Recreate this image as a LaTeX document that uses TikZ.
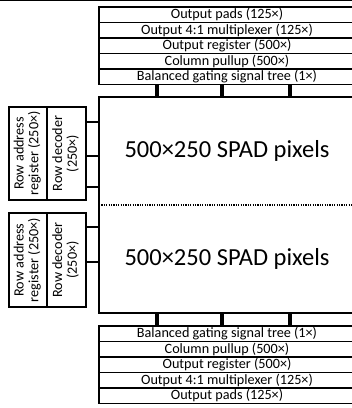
\documentclass[tikz,border=0pt]{standalone}
\usepackage{fontspec}
\setmainfont{Carlito}
\usetikzlibrary{positioning}

\tikzset{
  rowbox/.style={draw, line width=1.3pt, inner sep=0pt, outer sep=0pt,
    minimum width=256pt, minimum height=15.5pt, font=\fontsize{14.2}{15}\selectfont},
  sidebox/.style={draw, line width=1.3pt, inner sep=0pt, outer sep=0pt,
    minimum height=93pt, align=center, font=\fontsize{14.2}{14.5}\selectfont},
  pixhalf/.style={inner sep=0pt, outer sep=0pt, minimum width=256pt,
    minimum height=108pt, font=\fontsize{24.5}{26}\selectfont},
  vlink/.style={line width=3.2pt},
  hlink/.style={line width=2.2pt}
}

\begin{document}
\begin{tikzpicture}[x=1pt, y=-1pt]
  \useasboundingbox (0,0) rectangle (352,408);

  % Frame edge along the top
  \draw[line width=2pt] (0,0) -- (352,0);

  % Upper readout stack
  \node[rowbox, anchor=north west] (padsT) at (99,7) {Output pads (125×)};
  \node[rowbox, below=0pt of padsT] (muxT) {Output 4:1 multiplexer (125×)};
  \node[rowbox, below=0pt of muxT] (regT) {Output register (500×)};
  \node[rowbox, below=0pt of regT] (pullT) {Column pullup (500×)};
  \node[rowbox, below=0pt of pullT] (treeT) {Balanced gating signal tree (1×)};

  % Pixel array, two halves
  \node[pixhalf, anchor=north west] (pixU) at (99,97) {500×250 SPAD pixels};
  \node[pixhalf, below=0pt of pixU] (pixL) {500×250 SPAD pixels};
  \draw[line width=1.3pt] (pixU.north west) rectangle (pixL.south east);
  \draw[line width=1.3pt, dash pattern=on 1.2pt off 1.2pt] (pixU.south west) -- (pixU.south east);

  % Lower readout stack
  \node[rowbox, anchor=north west] (treeB) at (99,326) {Balanced gating signal tree (1×)};
  \node[rowbox, below=0pt of treeB] (pullB) {Column pullup (500×)};
  \node[rowbox, below=0pt of pullB] (regB) {Output register (500×)};
  \node[rowbox, below=0pt of regB] (muxB) {Output 4:1 multiplexer (125×)};
  \node[rowbox, below=0pt of muxB] (padsB) {Output pads (125×)};

  % Row drivers on the left
  \node[sidebox, minimum width=38pt, anchor=north west] (addrU) at (9,107)
    {\rotatebox{90}{\begin{tabular}{@{}c@{}}Row address\\register (250×)\end{tabular}}};
  \node[sidebox, minimum width=39pt, right=0pt of addrU] (decU)
    {\rotatebox{90}{\begin{tabular}{@{}c@{}}Row decoder\\(250×)\end{tabular}}};
  \node[sidebox, minimum width=38pt, minimum height=94pt, anchor=north west] (addrL) at (9,213)
    {\rotatebox{90}{\begin{tabular}{@{}c@{}}Row address\\register (250×)\end{tabular}}};
  \node[sidebox, minimum width=39pt, minimum height=94pt, right=0pt of addrL] (decL)
    {\rotatebox{90}{\begin{tabular}{@{}c@{}}Row decoder\\(250×)\end{tabular}}};

  % Column links
  \foreach \cx in {157,222,290} {
    \draw[vlink] (treeT.south -| \cx,0) -- (pixU.north -| \cx,0);
    \draw[vlink] (pixL.south -| \cx,0) -- (treeB.north -| \cx,0);
  }

  % Row links
  \foreach \cy in {122,156,187}
    \draw[hlink] (decU.east |- 0,\cy) -- (pixU.west |- 0,\cy);
  \foreach \cy in {227,262}
    \draw[hlink] (decL.east |- 0,\cy) -- (pixL.west |- 0,\cy);

\end{tikzpicture}
\end{document}
